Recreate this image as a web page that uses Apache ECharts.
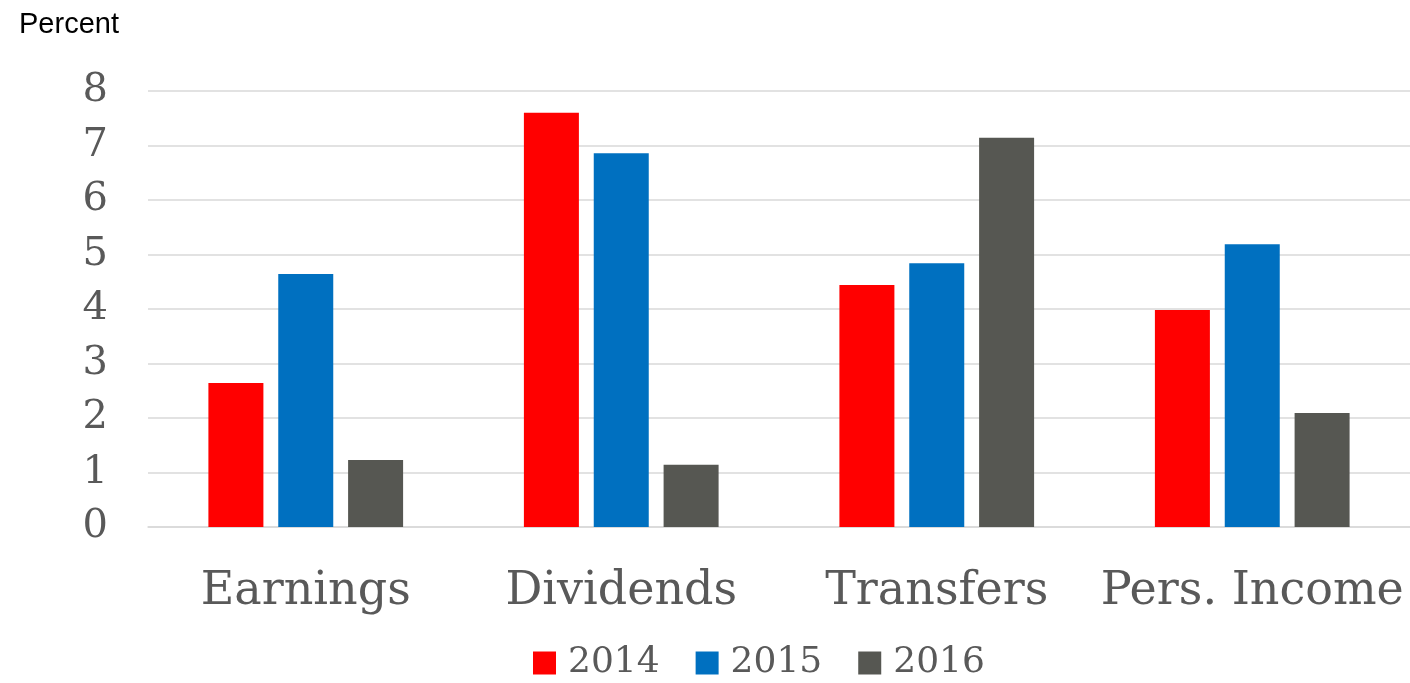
<!DOCTYPE html>
<html>
<head>
<meta charset="utf-8">
<script src="https://cdn.jsdelivr.net/npm/echarts@6/dist/echarts.min.js"></script>
<style>
  html, body { margin: 0; padding: 0; background: #fff; }
  #chart { width: 1410px; height: 683px; }
</style>
</head>
<body>
<div id="chart"></div>
<script>
const categories = ["Earnings", "Dividends", "Transfers", "Pers. Income"];
const years = ["2014", "2015", "2016"];
const values2014 = [2.64, 7.6, 4.44, 3.98];
const values2015 = [4.64, 6.86, 4.84, 5.19];
const values2016 = [1.23, 1.14, 7.14, 2.09];
const yTicks = [0, 1, 2, 3, 4, 5, 6, 7, 8];

const colors = ["#ff0000", "#0070c0", "#565752"];
const serif = "DejaVu Serif";
const textGray = "#595959";

const chart = echarts.init(document.getElementById("chart"));

const seriesValues = [values2014, values2015, values2016];

const option = {
  animation: false,
  color: colors,
  title: {
    text: "Percent",
    left: 14,
    top: 5,
    textStyle: {
      fontFamily: "Liberation Sans",
      fontSize: 29,
      fontWeight: "normal",
      color: "#000",
    },
  },
  grid: {
    left: 148,
    right: 0,
    top: 91,
    bottom: 156,
  },
  legend: {
    top: 640,
    left: 528,
    itemWidth: 23,
    itemHeight: 23,
    itemGap: 36,
    icon: "rect",
    textStyle: {
      fontFamily: serif,
      fontSize: 36,
      color: textGray,
      padding: [0, 0, 0, 7],
    },
    data: years,
  },
  xAxis: {
    type: "category",
    data: categories,
    axisTick: { show: false },
    axisLine: { lineStyle: { color: "#d9d9d9", width: 1.5 } },
    axisLabel: {
      interval: 0,
      fontFamily: serif,
      fontSize: 46,
      color: textGray,
      margin: 42,
    },
  },
  yAxis: {
    type: "value",
    min: yTicks[0],
    max: yTicks[yTicks.length - 1],
    interval: 1,
    axisLine: { show: false },
    axisTick: { show: false },
    splitLine: { lineStyle: { color: "#d9d9d9", width: 1.5 } },
    axisLabel: {
      fontFamily: serif,
      fontSize: 40,
      color: textGray,
      margin: 40,
    },
  },
  series: years.map((y, i) => ({
    name: y,
    type: "bar",
    data: seriesValues[i],
    barWidth: 55,
    barGap: "27%",
  })),
};

chart.setOption(option);
</script>
</body>
</html>
